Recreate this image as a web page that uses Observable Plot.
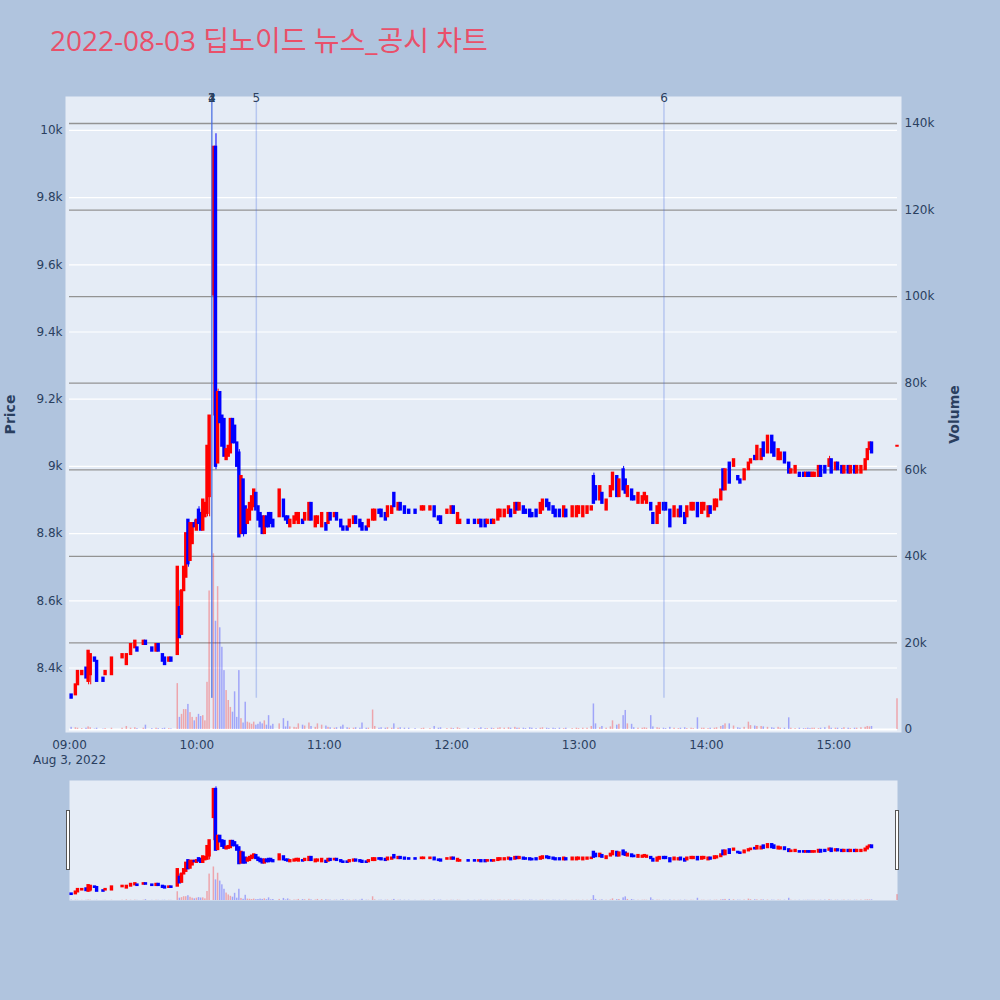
<!DOCTYPE html>
<html><head><meta charset="utf-8">
<script src="https://cdn.jsdelivr.net/npm/d3@7"></script>
<script src="https://cdn.jsdelivr.net/npm/@observablehq/plot@0.6"></script>
<style>
html,body{margin:0;padding:0;background:#b0c4de;}
#wrap{position:relative;width:1000px;height:1000px;background:#b0c4de;overflow:hidden;}
#wrap svg{position:absolute;left:0;overflow:visible;}
.handle{position:absolute;width:2px;height:58px;background:#fff;border:1px solid #555;top:810px;}
</style></head>
<body><div id="wrap"></div>
<script>
const title = "2022-08-03 딥노이드 뉴스_공시 차트";
const dateLabel = "Aug 3, 2022";
const timeTicks = ["09:00","10:00","11:00","12:00","13:00","14:00","15:00"];
const priceTicks = [8400,8600,8800,9000,9200,9400,9600,9800,10000];
const volumeTicks = [0,20000,40000,60000,80000,100000,120000,140000];
const eventTimes = ["10:07","10:07","10:07","10:07","10:28","13:40"];
const eventLabels = ["1","2","3","4","5","6"];

const times = [
"09:01","09:03","09:04","09:06","09:08","09:09","09:10","09:12","09:13","09:16",
"09:17","09:20","09:25","09:27","09:29","09:31","09:32","09:35","09:36","09:39",
"09:41","09:42","09:44","09:45","09:47","09:48","09:51","09:52","09:53","09:54",
"09:55","09:56","09:57","09:58","09:59","10:00","10:01","10:02","10:03","10:04",
"10:05","10:06","10:08","10:09","10:10","10:11","10:12","10:13","10:14","10:15",
"10:16","10:17","10:18","10:19","10:20","10:21","10:22","10:23","10:24","10:25",
"10:26","10:27","10:28","10:29","10:30","10:31","10:32","10:33","10:34","10:35",
"10:36","10:39","10:41","10:42","10:43","10:44","10:46","10:47","10:48","10:50",
"10:51","10:53","10:54","10:56","10:57","10:59","11:01","11:02","11:03","11:05",
"11:06","11:08","11:09","11:11","11:12","11:14","11:15","11:17","11:18","11:20",
"11:21","11:23","11:24","11:26","11:27","11:29","11:30","11:32","11:33","11:35",
"11:36","11:38","11:40","11:43","11:46","11:47","11:50","11:52","11:54","11:55",
"11:58","12:00","12:01","12:03","12:04","12:08","12:11","12:13","12:14","12:16",
"12:17","12:19","12:20","12:22","12:23","12:25","12:27","12:28","12:30","12:31",
"12:32","12:34","12:35","12:37","12:38","12:40","12:42","12:43","12:45","12:46",
"12:48","12:49","12:51","12:53","12:54","12:57","12:59","13:00","13:02","13:04",
"13:06","13:07","13:08","13:10","13:11","13:13","13:15","13:16","13:18","13:19",
"13:21","13:22","13:23","13:25","13:26","13:28","13:30","13:31","13:32","13:34",
"13:35","13:37","13:38","13:40","13:41","13:43","13:45","13:47","13:48","13:50",
"13:51","13:53","13:54","13:56","13:58","13:59","14:01","14:02","14:04","14:05",
"14:07","14:08","14:09","14:11","14:13","14:15","14:16","14:18","14:20","14:21",
"14:23","14:24","14:26","14:27","14:29","14:31","14:32","14:34","14:35","14:37",
"14:39","14:40","14:42","14:44","14:46","14:47","14:48","14:49","14:50","14:51",
"14:53","14:54","14:56","14:58","14:59","15:01","15:02","15:04","15:05","15:07",
"15:08","15:10","15:11","15:13","15:15","15:16","15:17","15:18","15:30"];
const opens = [
8320,8320,8350,8380,8400,8360,8380,8430,8420,8370,
8380,8380,8430,8410,8440,8460,8460,8470,8480,8460,
8450,8470,8440,8430,8420,8430,8440,8580,8500,8630,
8670,8840,8720,8770,8830,8810,8870,8860,8810,8850,
8860,8910,9510,9950,9010,9220,9150,9140,9020,9030,
9040,9140,9120,9070,9040,8800,8960,8880,8830,8840,
8870,8880,8920,8880,8860,8850,8800,8850,8860,8860,
8840,8850,8900,8850,8850,8820,8830,8840,8830,8840,
8840,8840,8890,8820,8830,8820,8830,8830,8860,8850,
8860,8840,8820,8820,8820,8830,8850,8840,8830,8820,
8820,8840,8840,8870,8870,8860,8850,8860,8920,8870,
8890,8880,8870,8870,8870,8870,8870,8880,8850,8850,
8860,8860,8880,8830,8830,8840,8840,8830,8840,8840,
8830,8840,8830,8840,8850,8850,8860,8870,8860,8890,
8870,8880,8870,8870,8860,8870,8860,8870,8900,8890,
8880,8870,8870,8850,8870,8850,8850,8860,8850,8860,
8870,8970,8940,8900,8920,8870,8910,8930,8970,8910,
8990,8960,8910,8930,8910,8890,8890,8900,8890,8890,
8860,8830,8860,8890,8890,8870,8850,8850,8880,8860,
8850,8870,8870,8890,8860,8870,8850,8880,8870,8880,
8900,8990,8930,9010,9000,8970,8960,8960,8990,9010,
9030,9020,9020,9070,9040,9090,9070,9020,9020,9040,
9010,8980,8980,8980,8980,8970,8980,8980,8970,8970,
8970,9000,9000,9000,9020,8990,9010,9000,8980,9000,
8980,9000,8980,8980,8990,9020,9050,9070,9060];
const highs = [
8320,8350,8390,8390,8400,8450,8440,8430,8420,8370,
8390,8430,8440,8440,8470,8480,8460,8480,8480,8460,
8470,8470,8440,8430,8430,8430,8700,8630,8630,8700,
8800,8840,8830,8830,8840,8840,8880,8860,8900,8890,
9060,9150,9950,9990,9230,9220,9150,9140,9050,9060,
9140,9140,9120,9070,9050,8970,8960,8880,8870,8890,
8910,8930,8920,8880,8860,8850,8850,8850,8860,8860,
8840,8930,8900,8850,8850,8840,8850,8860,8860,8840,
8860,8890,8890,8850,8850,8860,8830,8860,8860,8860,
8860,8840,8820,8820,8840,8850,8850,8840,8830,8820,
8840,8870,8870,8870,8870,8860,8880,8880,8920,8890,
8890,8880,8870,8870,8880,8880,8880,8880,8850,8850,
8870,8880,8880,8860,8840,8840,8840,8840,8840,8840,
8840,8840,8840,8870,8870,8870,8880,8870,8890,8890,
8890,8880,8870,8870,8860,8870,8890,8900,8900,8890,
8880,8870,8870,8880,8870,8880,8880,8880,8880,8880,
8880,8980,8940,8940,8920,8900,8940,8980,8970,8960,
9000,8960,8940,8930,8910,8920,8910,8920,8910,8890,
8860,8880,8890,8890,8890,8870,8880,8870,8880,8860,
8880,8890,8890,8890,8890,8890,8880,8880,8900,8900,
8930,8990,8990,9010,9020,8970,8960,8990,9010,9020,
9030,9060,9050,9070,9090,9090,9070,9050,9040,9040,
9010,8990,9000,8980,8980,8980,8980,8980,8980,8980,
9000,9000,9000,9030,9020,9010,9010,9000,9000,9000,
9000,9000,9000,9000,9020,9050,9070,9070,9060];
const lows = [
8310,8320,8350,8380,8370,8350,8350,8420,8360,8360,
8380,8380,8430,8410,8440,8460,8450,8470,8470,8450,
8450,8450,8420,8410,8420,8420,8440,8490,8500,8630,
8670,8700,8720,8770,8820,8810,8830,8810,8810,8850,
8850,8850,9150,8990,9010,9130,9060,9030,9020,9030,
9040,9070,9070,9000,8790,8800,8790,8800,8830,8840,
8870,8880,8870,8840,8820,8800,8800,8820,8820,8830,
8820,8850,8850,8840,8830,8820,8830,8840,8830,8830,
8840,8840,8840,8820,8830,8820,8810,8830,8840,8850,
8840,8820,8810,8810,8820,8830,8830,8820,8810,8810,
8820,8840,8840,8860,8850,8840,8850,8860,8880,8870,
8870,8860,8860,8860,8870,8870,8870,8850,8840,8830,
8860,8860,8860,8830,8830,8830,8830,8830,8820,8820,
8830,8830,8830,8840,8850,8850,8860,8850,8860,8870,
8870,8860,8860,8850,8850,8850,8860,8870,8880,8870,
8860,8850,8850,8850,8850,8850,8850,8860,8850,8860,
8870,8890,8900,8900,8890,8870,8910,8930,8910,8910,
8930,8920,8910,8900,8900,8890,8890,8900,8890,8870,
8830,8830,8860,8870,8870,8820,8850,8850,8850,8830,
8850,8870,8870,8850,8860,8870,8850,8860,8870,8880,
8900,8930,8930,8950,9000,8960,8950,8960,8990,9010,
9020,9020,9020,9030,9040,9040,9030,9020,9020,9010,
8980,8980,8980,8970,8970,8970,8970,8970,8970,8970,
8970,8970,8980,9000,8980,8990,8990,8980,8980,8980,
8980,8980,8980,8980,8990,9020,9050,9040,9060];
const closes = [
8310,8350,8390,8390,8370,8450,8440,8420,8360,8360,
8390,8430,8440,8440,8470,8480,8450,8480,8470,8450,
8470,8450,8420,8410,8430,8420,8700,8490,8630,8700,
8800,8710,8830,8830,8820,8840,8830,8810,8900,8890,
9060,9150,9950,9000,9220,9130,9060,9030,9050,9060,
9140,9070,9070,9000,8790,8970,8800,8800,8870,8890,
8910,8930,8870,8840,8820,8800,8850,8820,8820,8830,
8820,8930,8850,8840,8830,8840,8850,8860,8860,8830,
8860,8890,8840,8850,8850,8860,8810,8860,8840,8860,
8840,8820,8810,8810,8840,8850,8830,8820,8810,8810,
8840,8870,8870,8860,8850,8840,8880,8880,8880,8890,
8870,8860,8860,8860,8880,8880,8880,8850,8840,8830,
8870,8880,8860,8860,8840,8830,8830,8840,8820,8820,
8840,8830,8840,8870,8870,8870,8880,8850,8890,8870,
8890,8860,8860,8850,8850,8850,8890,8900,8880,8870,
8860,8850,8850,8880,8850,8880,8880,8880,8880,8880,
8880,8890,8900,8940,8890,8900,8940,8980,8910,8960,
8930,8920,8940,8900,8900,8920,8910,8920,8910,8870,
8830,8880,8890,8870,8870,8820,8880,8870,8850,8830,
8880,8890,8890,8850,8890,8890,8880,8860,8900,8900,
8930,8930,8990,8950,9020,8960,8950,8990,9010,9020,
9020,9060,9050,9030,9090,9040,9030,9050,9040,9010,
8980,8990,9000,8970,8970,8980,8970,8970,8980,8980,
9000,8970,8980,9020,8980,9010,8990,8980,9000,8980,
9000,8980,9000,9000,9020,9050,9070,9040,9060];
const volumes = [
500,400,300,200,300,600,400,100,300,100,
200,300,300,700,300,400,200,300,1000,200,
300,200,200,300,200,150,10600,2800,3500,4600,
4600,5800,3900,2800,2000,2800,3500,3000,3200,2000,
10900,32000,40600,25000,33000,23500,19000,13600,9000,6700,
5100,4000,8700,2800,13600,2500,1500,6300,1700,1500,
1200,1700,1000,1200,1700,1300,2000,1000,3200,800,
1200,1300,2500,600,1900,600,500,400,1300,1000,
800,1500,700,500,1300,1000,800,500,400,300,
400,600,1000,400,300,300,400,300,1500,300,
300,4500,700,300,400,300,400,300,1300,300,
400,300,300,200,200,300,200,700,300,400,
200,300,200,400,200,300,200,200,400,200,
200,300,200,300,400,300,400,300,500,300,
300,300,200,400,300,200,300,400,300,200,
300,200,300,200,300,200,300,200,300,300,
700,5900,1300,400,700,300,600,2000,1000,1200,
3200,4400,1300,1200,400,300,300,400,300,3200,
600,400,300,300,200,500,300,200,300,400,
200,300,200,2700,300,300,200,300,300,400,
700,900,1300,1300,800,400,300,500,1700,900,
800,700,700,600,500,400,300,500,300,300,
2700,300,200,300,200,200,300,200,300,300,
200,300,400,800,300,300,300,200,400,300,
200,300,300,400,500,700,600,700,7100];

const RED = "#ff0000", BLUE = "#0000ff";
const toMin = s => { const [h, m] = s.split(":").map(Number); return (h - 9) * 60 + m; };
const candles = times.map((t, i) => ({
  m: toMin(t), o: opens[i], h: highs[i], l: lows[i], c: closes[i], v: volumes[i],
  col: closes[i] >= opens[i] ? RED : BLUE
}));
const events = eventTimes.map((t, i) => ({m: toMin(t), label: eventLabels[i]}));
const tickLabel = new Map(timeTicks.map((t, i) => [toMin(t), i === 0 ? t + "\n" + dateLabel : t]));

// shared axis ranges (price on the left, volume on the right)
const yLo = 8217, yHi = 10089, volTop = 145314;
const volToY = v => yLo + v / volTop * (yHi - yLo);
const yToVol = y => (y - yLo) / (yHi - yLo) * volTop;
const dayLow = d3.min(lows);
const xDomain = [0, toMin("15:30")];

const font = '"DejaVu Sans", Verdana, sans-serif';
const baseStyle = {fontFamily: font, fontSize: "12px", color: "#2a3f5f", background: "transparent", overflow: "visible"};

const candleMarks = (bodyW, volW) => [
  Plot.rect(candles, {x1: d => d.m - volW, x2: d => d.m + volW, y1: () => volToY(0), y2: d => volToY(d.v), fill: "col", fillOpacity: 0.3}),
  Plot.ruleX(candles, {x: "m", y1: "l", y2: "h", stroke: "col", strokeWidth: 1}),
  Plot.rect(candles, {x1: d => d.m - bodyW, x2: d => d.m + bodyW, y1: d => Math.min(d.o, d.c), y2: d => Math.max(d.o, d.c), fill: "col", insetTop: -1, insetBottom: -1})
];

const main = Plot.plot({
  width: 1000, height: 780,
  marginTop: 100, marginBottom: 51, marginLeft: 69, marginRight: 103,
  x: {domain: xDomain},
  y: {domain: [yLo, yHi]},
  color: {type: "identity"},
  style: baseStyle,
  marks: [
    Plot.frame({fill: "#e5ecf6", insetTop: -4, insetLeft: -4, insetRight: -4, insetBottom: -3}),
    Plot.ruleY(priceTicks, {stroke: "#ffffff", strokeWidth: 1.2}),
    Plot.ruleY(volumeTicks.filter(v => v > 0), {y: volToY, stroke: "#939393", strokeWidth: 1.3}),
    Plot.ruleY([0], {y: volToY, stroke: "#ffffff", strokeWidth: 2}),
    ...candleMarks(0.8, 0.35),
    Plot.ruleX(events, {x: "m", y1: dayLow, y2: yHi, stroke: "royalblue", strokeOpacity: 0.28, strokeWidth: 1.5}),
    Plot.text(events, {x: "m", text: "label", frameAnchor: "top", lineAnchor: "bottom", fontSize: 12, fill: "#2a3f5f", dy: 1}),
    Plot.axisY(priceTicks, {anchor: "left", tickSize: 0, tickPadding: 7, tickFormat: d3.format("~s"), label: null, fontSize: 12}),
    Plot.axisY(volumeTicks.map(volToY), {anchor: "right", tickSize: 0, tickPadding: 7, tickFormat: d => d3.format("~s")(Math.round(yToVol(d) / 1000) * 1000), label: null, fontSize: 12}),
    Plot.axisX(timeTicks.map(toMin), {anchor: "bottom", tickSize: 0, tickPadding: 8, tickFormat: d => tickLabel.get(d), label: null, fontSize: 12, lineHeight: 1.3})
  ]
});
main.style.top = "0px";

const svg = d3.select(main);
svg.append("text").attr("x", 50).attr("y", 51).attr("text-anchor", "start")
  .attr("font-family", '"Open Sans", "Noto Sans CJK KR", sans-serif').attr("font-size", 28)
  .attr("fill", "#e9506a").text(title);
svg.append("text").attr("transform", "translate(15,414.5) rotate(-90)").attr("text-anchor", "middle")
  .attr("font-family", font).attr("font-size", 14).attr("font-weight", "bold").attr("fill", "#2a3f5f").text("Price");
svg.append("text").attr("transform", "translate(959,414.5) rotate(-90)").attr("text-anchor", "middle")
  .attr("font-family", font).attr("font-size", 14).attr("font-weight", "bold").attr("fill", "#2a3f5f").text("Volume");

const slider = Plot.plot({
  width: 1000, height: 120,
  marginTop: 0, marginBottom: 0, marginLeft: 69, marginRight: 103,
  x: {domain: xDomain, axis: null},
  y: {domain: [yLo, yHi], axis: null},
  color: {type: "identity"},
  style: baseStyle,
  marks: [
    Plot.frame({fill: "#e5ecf6"}),
    ...candleMarks(0.8, 0.35)
  ]
});
slider.style.top = "780px";

const wrap = document.getElementById("wrap");
wrap.appendChild(main);
wrap.appendChild(slider);
for (const left of [66, 895]) {
  const h = document.createElement("div");
  h.className = "handle"; h.style.left = left + "px";
  wrap.appendChild(h);
}
</script></body></html>
